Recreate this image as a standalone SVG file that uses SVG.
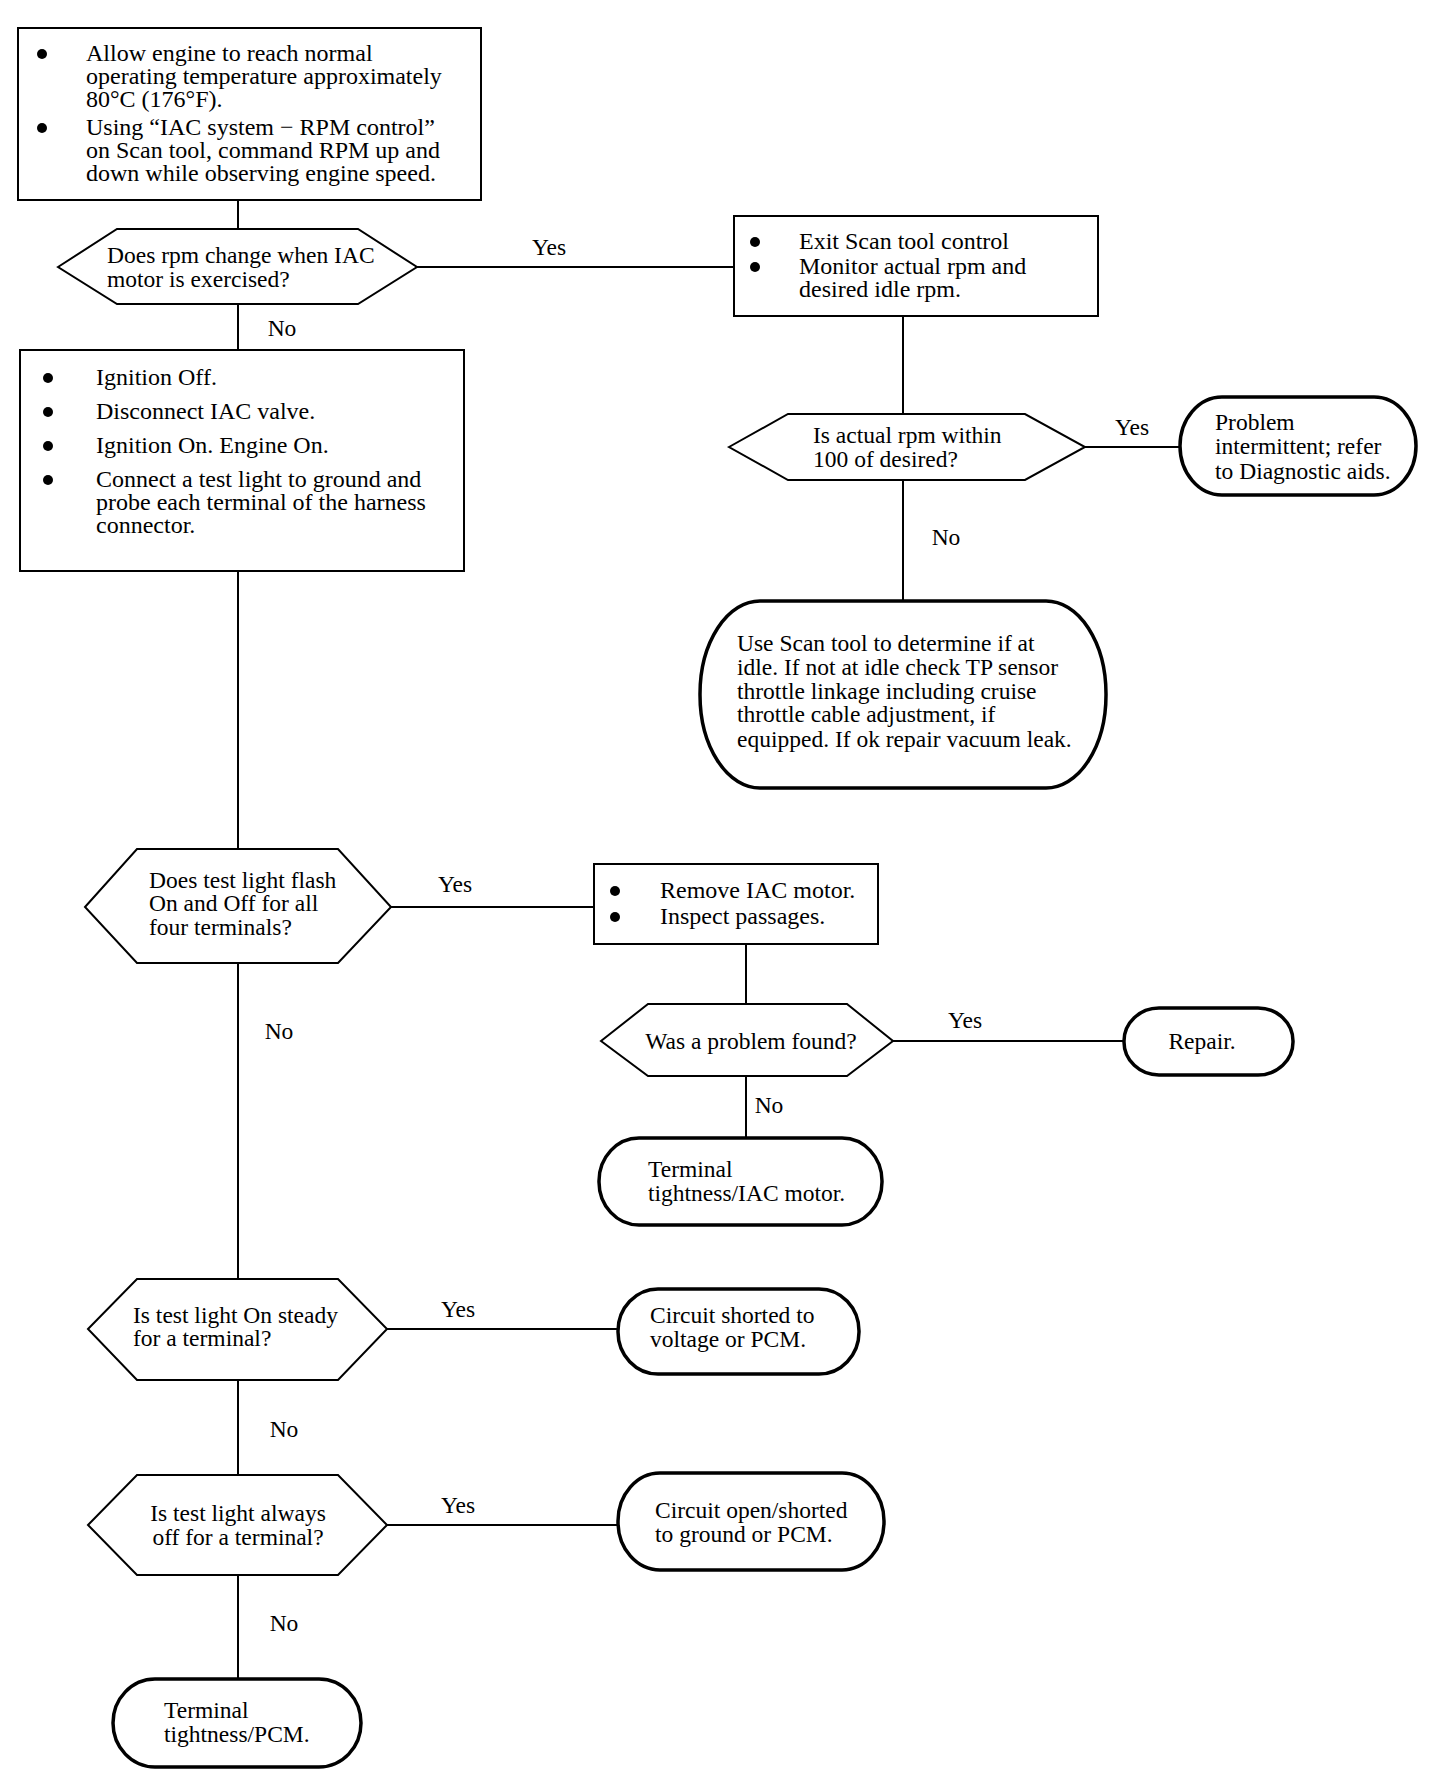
<svg xmlns="http://www.w3.org/2000/svg" width="1456" height="1784" viewBox="0 0 1456 1784">
<style>
text{font-family:"Liberation Serif","Times New Roman",serif;font-size:23.5px;fill:#000}
.bt{font-size:24px}
.box{fill:#fff;stroke:#000;stroke-width:2}
.hex{fill:#fff;stroke:#000;stroke-width:2}
.pill{fill:#fff;stroke:#000;stroke-width:3.5}
.con{stroke:#000;stroke-width:2;fill:none}
.mid{text-anchor:middle}
</style>
<rect width="1456" height="1784" fill="#fff"/>
<g id="connectors">
<line class="con" x1="238" y1="200" x2="238" y2="229"/>
<line class="con" x1="417" y1="267" x2="734" y2="267"/>
<line class="con" x1="238" y1="304" x2="238" y2="350"/>
<line class="con" x1="903" y1="316" x2="903" y2="414"/>
<line class="con" x1="1085" y1="447" x2="1180" y2="447"/>
<line class="con" x1="903" y1="480" x2="903" y2="601"/>
<line class="con" x1="238" y1="571" x2="238" y2="849"/>
<line class="con" x1="391" y1="907" x2="594" y2="907"/>
<line class="con" x1="746" y1="944" x2="746" y2="1004"/>
<line class="con" x1="893" y1="1041" x2="1124" y2="1041"/>
<line class="con" x1="746" y1="1076" x2="746" y2="1138"/>
<line class="con" x1="238" y1="963" x2="238" y2="1279"/>
<line class="con" x1="387" y1="1329" x2="618" y2="1329"/>
<line class="con" x1="238" y1="1380" x2="238" y2="1475"/>
<line class="con" x1="387" y1="1525" x2="618" y2="1525"/>
<line class="con" x1="238" y1="1575" x2="238" y2="1679"/>
<text x="549" y="255" class="mid">Yes</text>
<text x="282" y="336" class="mid">No</text>
<text x="1132" y="435" class="mid">Yes</text>
<text x="946" y="545" class="mid">No</text>
<text x="455" y="892" class="mid">Yes</text>
<text x="965" y="1028" class="mid">Yes</text>
<text x="769" y="1113" class="mid">No</text>
<text x="279" y="1039" class="mid">No</text>
<text x="458" y="1317" class="mid">Yes</text>
<text x="284" y="1437" class="mid">No</text>
<text x="458" y="1513" class="mid">Yes</text>
<text x="284" y="1631" class="mid">No</text>
</g>
<g id="start">
<rect class="box" x="18" y="28" width="463" height="172"/>
<circle cx="42" cy="54" r="5"/>
<circle cx="42" cy="128" r="5"/>
<text class="bt"><tspan x="86" y="61">Allow engine to reach normal</tspan><tspan x="86" y="84">operating temperature approximately</tspan><tspan x="86" y="107">80°C (176°F).</tspan></text>
<text class="bt"><tspan x="86" y="135">Using “IAC system − RPM control”</tspan><tspan x="86" y="158">on Scan tool, command RPM up and</tspan><tspan x="86" y="181">down while observing engine speed.</tspan></text>
</g>
<g id="q-rpm-change">
<polygon class="hex" points="58,267 117,229 358,229 417,267 358,304 117,304"/>
<text><tspan x="107" y="263">Does rpm change when IAC</tspan><tspan x="107" y="287">motor is exercised?</tspan></text>
</g>
<g id="exit-scan">
<rect class="box" x="734" y="216" width="364" height="100"/>
<circle cx="755" cy="242" r="5"/>
<circle cx="755" cy="267" r="5"/>
<text class="bt" x="799" y="249">Exit Scan tool control</text>
<text class="bt"><tspan x="799" y="274">Monitor actual rpm and</tspan><tspan x="799" y="297">desired idle rpm.</tspan></text>
</g>
<g id="q-within-100">
<polygon class="hex" points="729,447 788,414 1025,414 1085,447 1025,480 788,480"/>
<text><tspan x="813" y="443">Is actual rpm within</tspan><tspan x="813" y="467">100 of desired?</tspan></text>
</g>
<g id="intermittent">
<rect class="pill" x="1180" y="397" width="236" height="98" rx="42" ry="49"/>
<text><tspan x="1215" y="430">Problem</tspan><tspan x="1215" y="454">intermittent; refer</tspan><tspan x="1215" y="479">to Diagnostic aids.</tspan></text>
</g>
<g id="use-scan-tool">
<rect class="pill" x="700" y="601" width="406" height="187" rx="60" ry="93"/>
<text><tspan x="737" y="651">Use Scan tool to determine if at</tspan><tspan x="737" y="675">idle. If not at idle check TP sensor</tspan><tspan x="737" y="699">throttle linkage including cruise</tspan><tspan x="737" y="722">throttle cable adjustment, if</tspan><tspan x="737" y="747">equipped. If ok repair vacuum leak.</tspan></text>
</g>
<g id="ignition-off">
<rect class="box" x="20" y="350" width="444" height="221"/>
<circle cx="48" cy="378" r="5"/>
<circle cx="48" cy="412" r="5"/>
<circle cx="48" cy="446" r="5"/>
<circle cx="48" cy="480" r="5"/>
<text class="bt" x="96" y="385">Ignition Off.</text>
<text class="bt" x="96" y="419">Disconnect IAC valve.</text>
<text class="bt" x="96" y="453">Ignition On. Engine On.</text>
<text class="bt"><tspan x="96" y="487">Connect a test light to ground and</tspan><tspan x="96" y="510">probe each terminal of the harness</tspan><tspan x="96" y="533">connector.</tspan></text>
</g>
<g id="q-flash">
<polygon class="hex" points="85,907 137,849 338,849 391,907 338,963 137,963"/>
<text><tspan x="149" y="888">Does test light flash</tspan><tspan x="149" y="911">On and Off for all</tspan><tspan x="149" y="935">four terminals?</tspan></text>
</g>
<g id="remove-iac">
<rect class="box" x="594" y="864" width="284" height="80"/>
<circle cx="615" cy="891" r="5"/>
<circle cx="615" cy="917" r="5"/>
<text class="bt" x="660" y="898">Remove IAC motor.</text>
<text class="bt" x="660" y="924">Inspect passages.</text>
</g>
<g id="q-problem-found">
<polygon class="hex" points="601,1041 648,1004 847,1004 893,1041 847,1076 648,1076"/>
<text x="751" y="1049" class="mid">Was a problem found?</text>
</g>
<g id="repair">
<rect class="pill" x="1124" y="1008" width="169" height="67" rx="35" ry="33"/>
<text x="1202" y="1049" class="mid">Repair.</text>
</g>
<g id="terminal-iac">
<rect class="pill" x="599" y="1138" width="283" height="87" rx="40" ry="43"/>
<text><tspan x="648" y="1177">Terminal</tspan><tspan x="648" y="1201">tightness/IAC motor.</tspan></text>
</g>
<g id="q-on-steady">
<polygon class="hex" points="88,1329 137,1279 338,1279 387,1329 338,1380 137,1380"/>
<text><tspan x="133" y="1323">Is test light On steady</tspan><tspan x="133" y="1346">for a terminal?</tspan></text>
</g>
<g id="shorted-voltage">
<rect class="pill" x="618" y="1289" width="241" height="85" rx="40" ry="42"/>
<text><tspan x="650" y="1323">Circuit shorted to</tspan><tspan x="650" y="1347">voltage or PCM.</tspan></text>
</g>
<g id="q-always-off">
<polygon class="hex" points="88,1525 137,1475 338,1475 387,1525 338,1575 137,1575"/>
<text class="mid"><tspan x="238" y="1521">Is test light always</tspan><tspan x="238" y="1545">off for a terminal?</tspan></text>
</g>
<g id="open-shorted">
<rect class="pill" x="618" y="1473" width="266" height="97" rx="42" ry="48"/>
<text><tspan x="655" y="1518">Circuit open/shorted</tspan><tspan x="655" y="1542">to ground or PCM.</tspan></text>
</g>
<g id="terminal-pcm">
<rect class="pill" x="113" y="1679" width="248" height="88" rx="42" ry="44"/>
<text><tspan x="164" y="1718">Terminal</tspan><tspan x="164" y="1742">tightness/PCM.</tspan></text>
</g>
</svg>
